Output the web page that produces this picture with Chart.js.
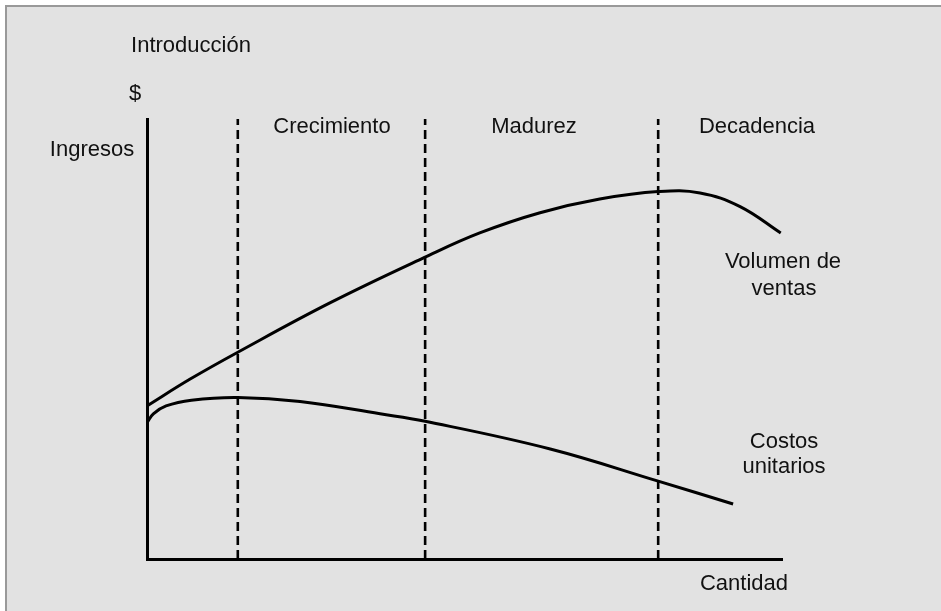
<!DOCTYPE html>
<html>
<head>
<meta charset="utf-8">
<script src="https://cdn.jsdelivr.net/npm/chart.js@4"></script>
<style>
html,body{margin:0;padding:0;background:#fff;}
#wrap{width:941px;height:611px;position:relative;}
</style>
</head>
<body>
<div id="wrap"><canvas id="c" width="941" height="611"></canvas></div>
<script>
// Quantity (x, 0-100 along the axis) and revenue/cost level (y, 0-100)
const ventasX = [0, 6.8, 14.3, 28.8, 43.8, 52.4, 61.9, 71.3, 80.5, 87.1, 93.4, 99.8];
const ventasY = [34.8, 40.9, 47.0, 58.2, 68.6, 74.1, 78.7, 81.8, 83.5, 83.2, 80.1, 74.1];
const costosX = [0, 1.0, 3.0, 7.0, 14.3, 24.1, 36.7, 43.8, 63.5, 80.5, 92.3];
const costosY = [31.0, 33.0, 34.8, 36.1, 36.7, 35.8, 33.0, 31.3, 25.0, 17.7, 12.5];
const stageBoundaries = [14.3, 43.8, 80.5];
const stageNames = ["Crecimiento", "Madurez", "Decadencia"];
const seriesLabels = ["Volumen de ventas", "Costos unitarios"];

const toPts = (xs, ys) => xs.map((x, i) => ({x: x, y: ys[i]}));

const datasets = [
  {label: seriesLabels[0], data: toPts(ventasX, ventasY), borderColor: '#000', borderWidth: 3,
   pointRadius: 0, tension: 0.4, fill: false},
  {label: seriesLabels[1], data: toPts(costosX, costosY), borderColor: '#000', borderWidth: 3,
   pointRadius: 0, tension: 0.4, fill: false}
];
stageBoundaries.forEach(b => datasets.push({
  label: 'stage', data: [{x: b, y: 0}, {x: b, y: 100}], borderColor: '#000', borderWidth: 2.6,
  borderDash: [9, 5], pointRadius: 0, tension: 0, fill: false
}));

const FONT = '22px "Liberation Sans", Arial, sans-serif';
const TXT = '#111111';
// text annotations: [text, centerX, centerY]
const notes = [
  ["Introducción", 191, 46],
  ["$", 135, 94],
  ["Ingresos", 92, 150],
  [stageNames[0], 332, 127],
  [stageNames[1], 534, 127],
  [stageNames[2], 757, 127],
  ["Volumen de", 783, 262],
  ["ventas", 784, 289],
  ["Costos", 784, 442],
  ["unitarios", 784, 467],
  ["Cantidad", 744, 584]
];

const bgPlugin = {
  id: 'bg',
  beforeDraw(chart) {
    const ctx = chart.ctx;
    ctx.save();
    ctx.fillStyle = '#ffffff';
    ctx.fillRect(0, 0, chart.width, chart.height);
    ctx.fillStyle = '#e2e2e2';
    ctx.fillRect(6, 6, chart.width - 6, chart.height - 6);
    ctx.fillStyle = '#999999';
    ctx.fillRect(5, 5, chart.width - 5, 2);
    ctx.fillRect(5, 5, 2, chart.height - 5);
    ctx.restore();
  }
};
const textPlugin = {
  id: 'texts',
  afterDraw(chart) {
    const ctx = chart.ctx;
    ctx.save();
    ctx.font = FONT;
    ctx.fillStyle = TXT;
    ctx.textAlign = 'center';
    ctx.textBaseline = 'middle';
    notes.forEach(n => ctx.fillText(n[0], n[1], n[2]));
    ctx.restore();
  }
};

new Chart(document.getElementById('c'), {
  type: 'line',
  data: {datasets: datasets},
  options: {
    responsive: false,
    animation: false,
    layout: {padding: {left: 147, top: 119, right: 159, bottom: 52}},
    plugins: {legend: {display: false}, tooltip: {enabled: false}, title: {display: false}},
    scales: {
      x: {type: 'linear', min: 0, max: 100, display: true,
          ticks: {display: false}, grid: {display: false, drawTicks: false},
          border: {display: true, color: '#000', width: 3},
          afterFit: s => { s.height = 0; }},
      y: {type: 'linear', min: 0, max: 100, display: true,
          ticks: {display: false}, grid: {display: false, drawTicks: false},
          border: {display: true, color: '#000', width: 3},
          afterFit: s => { s.width = 0; }}
    }
  },
  plugins: [bgPlugin, textPlugin]
});
</script>
</body>
</html>
